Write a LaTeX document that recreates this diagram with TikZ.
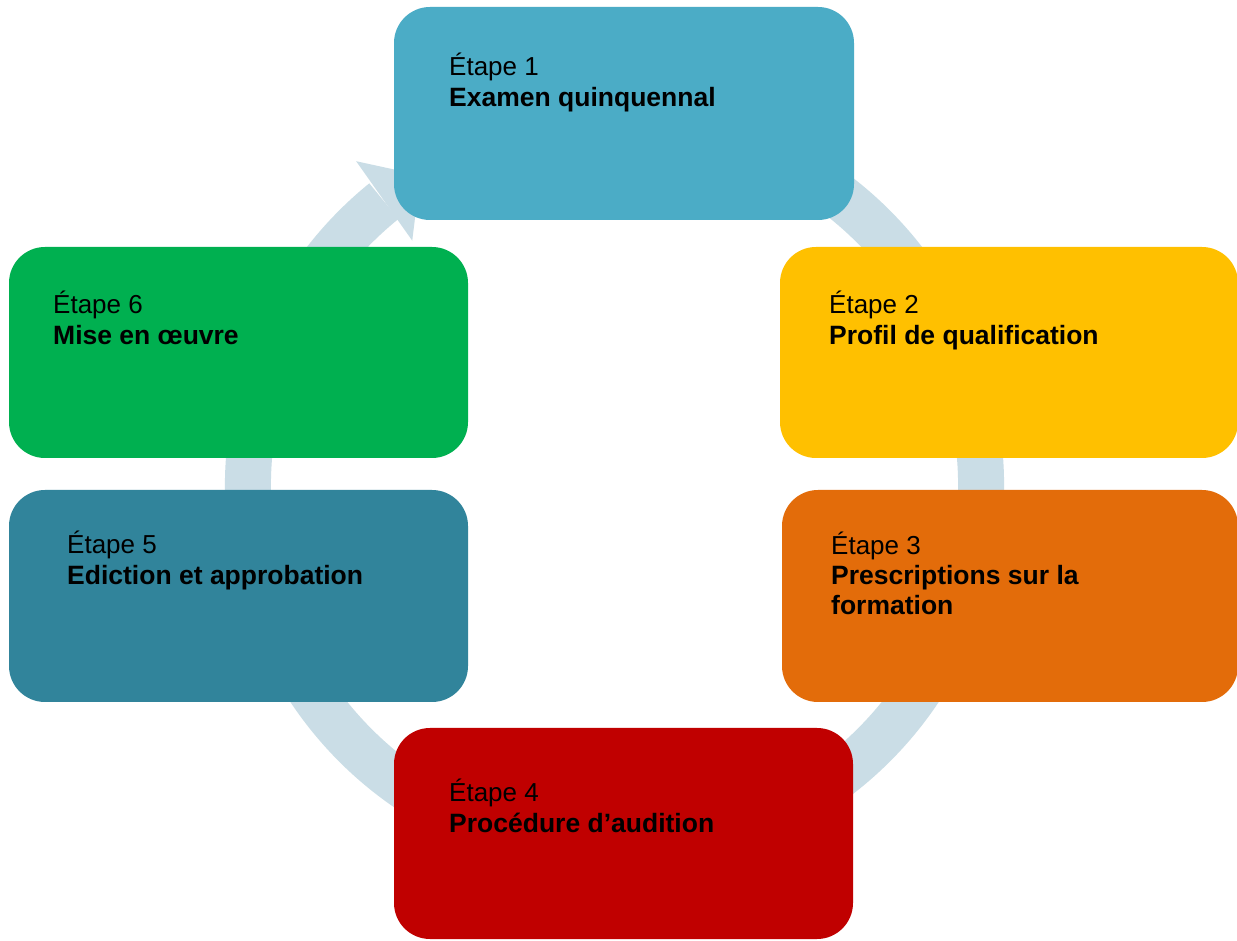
\documentclass[tikz,border=0pt]{standalone}
\usepackage{fontspec}
\setmainfont{Liberation Sans}
\usetikzlibrary{calc}
\definecolor{ringc}{HTML}{CADDE6}
\definecolor{cA}{HTML}{4BACC6}
\definecolor{cB}{HTML}{FFC000}
\definecolor{cC}{HTML}{E36C0A}
\definecolor{cD}{HTML}{C00000}
\definecolor{cE}{HTML}{31849B}
\definecolor{cF}{HTML}{00B050}
\tikzset{
  stepbox/.style={draw=none, rounded corners=36pt, inner sep=0pt},
  lbl/.style={anchor=base west, inner sep=0pt, font=\fontsize{26}{31}\selectfont, text=black},
  ttl/.style={lbl, font=\fontsize{26.5}{31}\selectfont\bfseries},
}
\begin{document}
\begin{tikzpicture}[x=1pt,y=1pt]
\useasboundingbox (0,0) rectangle (1237,940);
\fill[white] (0,0) rectangle (1237,940);
% ring
\coordinate (c) at (614.5,454);
\draw[ringc, line width=46pt] ($(c)+(75:366.5)$) arc[start angle=75, end angle=-231, radius=366.5];
\fill[ringc] ($(c)+(129.5:318)$) -- ($(c)+(128.5:415)$) -- ($(c)+(122:366.5)$) -- cycle;
% boxes
\node[stepbox, fill=cA, minimum width=460pt, minimum height=213pt] (s1) at (624,826.5) {};
\node[stepbox, fill=cB, minimum width=458pt, minimum height=211pt] (s2) at (1009,587.5) {};
\node[stepbox, fill=cC, minimum width=456pt, minimum height=212pt] (s3) at (1010,344) {};
\node[stepbox, fill=cD, minimum width=459pt, minimum height=211pt] (s4) at (623.5,106.5) {};
\node[stepbox, fill=cE, minimum width=459pt, minimum height=212pt] (s5) at (238.5,344) {};
\node[stepbox, fill=cF, minimum width=459pt, minimum height=211pt] (s6) at (238.5,587.5) {};
% texts
\node[lbl] (t1a) at (449,864) {Étape 1};
\node[ttl] (t1b) at (449,833) {Examen quinquennal};
\node[lbl] (t2a) at (829,626) {Étape 2};
\node[ttl] (t2b) at (829,595) {Profil de qualification};
\node[lbl] (t3a) at (831,385) {Étape 3};
\node[ttl] (t3b) at (831,355) {Prescriptions sur la};
\node[ttl] (t3c) at (831,325) {formation};
\node[lbl] (t4a) at (449,138) {Étape 4};
\node[ttl] (t4b) at (449,107) {Procédure d’audition};
\node[lbl] (t5a) at (67,386) {Étape 5};
\node[ttl] (t5b) at (67,355) {Ediction et approbation};
\node[lbl] (t6a) at (53,626) {Étape 6};
\node[ttl] (t6b) at (53,595) {Mise en œuvre};
\end{tikzpicture}
\end{document}
